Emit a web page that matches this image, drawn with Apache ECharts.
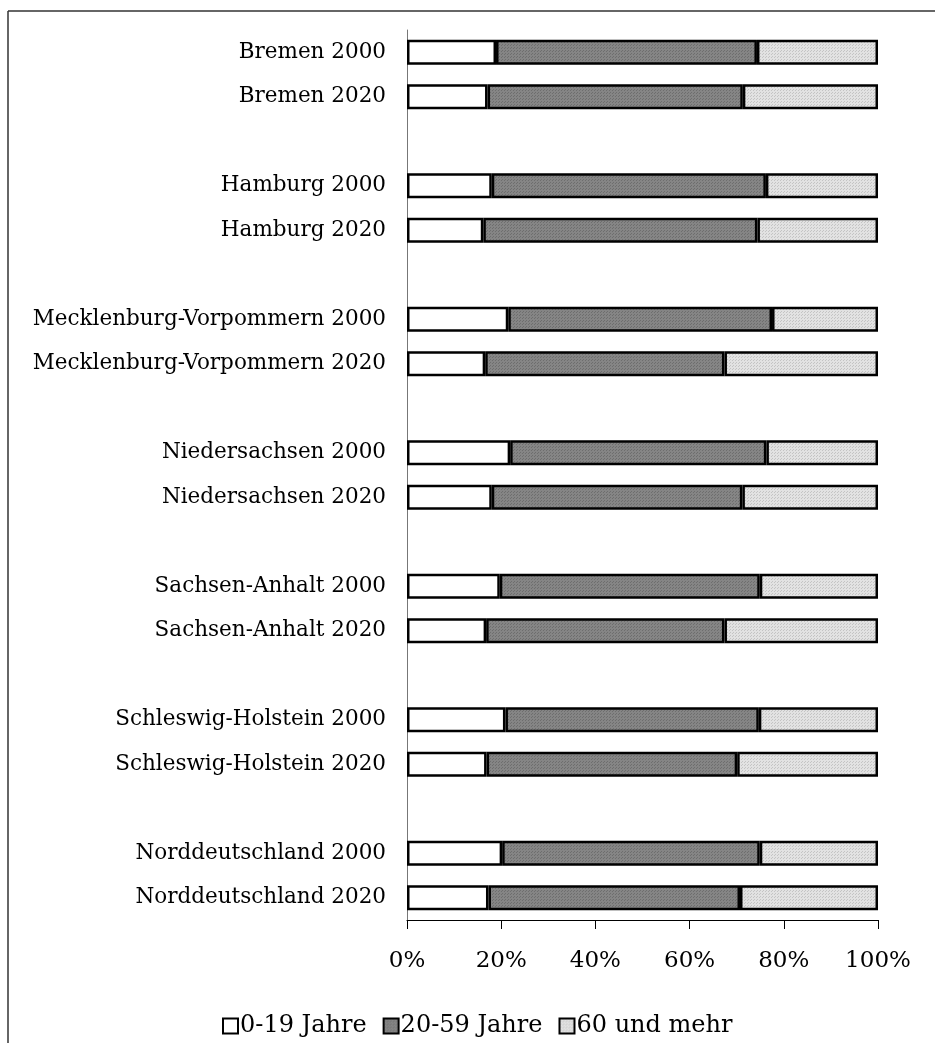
<!DOCTYPE html>
<html>
<head>
<meta charset="utf-8">
<script src="https://cdn.jsdelivr.net/npm/echarts@6/dist/echarts.min.js"></script>
<style>
  html, body { margin: 0; padding: 0; background: #fff; }
  #chart { width: 935px; height: 1043px; }
</style>
</head>
<body>
<div id="chart"></div>
<script>
// Regionen und Jahre (oben nach unten)
const regions = ['Bremen', 'Hamburg', 'Mecklenburg-Vorpommern', 'Niedersachsen',
  'Sachsen-Anhalt', 'Schleswig-Holstein', 'Norddeutschland']
const years = ['2000', '2020']

// Anteile in %, je Region: [2000, 2020]
const young = [18.9, 17.1, 18.0, 16.2, 21.5, 16.6, 21.9, 18.0, 19.7, 16.8, 20.9, 16.9, 20.2, 17.3]
const middle = [55.4, 54.2, 58.2, 58.2, 56.0, 50.8, 54.4, 53.2, 55.2, 50.6, 53.8, 53.2, 54.7, 53.4]
const old = [25.7, 28.7, 23.8, 25.6, 22.5, 32.6, 23.7, 28.8, 25.1, 32.6, 25.3, 29.9, 25.1, 29.3]

const seriesNames = ['0-19 Jahre', '20-59 Jahre', '60 und mehr']
const xTicks = [0, 20, 40, 60, 80, 100]

const font = 'DejaVu Serif'

// Kategorien mit Leerzeile zwischen den Regionen
let categories = []
let slots = [] // index in den Wertelisten, oder -1 fuer Leerzeile
regions.forEach((r, i) => {
  if (i > 0) {
    categories.push('')
    slots.push(-1)
  }
  years.forEach((y, j) => {
    categories.push(r + ' ' + y)
    slots.push(i * years.length + j)
  })
})
function toSlots(list) {
  return slots.map(k => (k < 0 ? null : list[k]))
}

// kleine Punktraster wie im Original
function dotPattern(base, dot) {
  const c = document.createElement('canvas')
  c.width = 3
  c.height = 3
  const ctx = c.getContext('2d')
  ctx.fillStyle = base
  ctx.fillRect(0, 0, 3, 3)
  ctx.fillStyle = dot
  ctx.fillRect(0, 0, 1, 1)
  ctx.fillRect(1, 2, 1, 1)
  return { image: c, repeat: 'repeat' }
}

const fills = ['#ffffff', dotPattern('#858585', '#6e6e6e'), dotPattern('#e2e2e2', '#c4c4c4')]
const lists = [young, middle, old]

const chart = echarts.init(document.getElementById('chart'))
chart.setOption({
  animation: false,
  graphic: [
    { type: 'line', shape: { x1: 8, y1: 11, x2: 935, y2: 11 }, style: { stroke: '#333', lineWidth: 1.5 } },
    { type: 'line', shape: { x1: 8, y1: 11, x2: 8, y2: 1043 }, style: { stroke: '#333', lineWidth: 1.5 } }
  ],
  grid: {
    left: 407,
    right: 57,
    top: 30,
    bottom: 123
  },
  legend: {
    left: 217,
    top: 1009,
    itemWidth: 15,
    itemHeight: 15,
    itemGap: 16,
    icon: 'rect',
    data: seriesNames,
    textStyle: {
      fontFamily: font,
      fontSize: 24,
      color: '#000',
      padding: [0, 0, 0, -3]
    }
  },
  xAxis: {
    type: 'value',
    min: 0,
    max: 100,
    interval: 20,
    splitLine: { show: false },
    axisLine: { show: true, lineStyle: { color: '#000', width: 1 } },
    axisTick: { show: true, length: 9, lineStyle: { color: '#000' } },
    axisLabel: {
      formatter: v => (xTicks.indexOf(v) >= 0 ? v + '%' : ''),
      fontFamily: font,
      fontSize: 23,
      color: '#000',
      margin: 30
    }
  },
  yAxis: {
    type: 'category',
    inverse: true,
    data: categories,
    axisLine: { show: true, lineStyle: { color: '#777', width: 1 } },
    axisTick: { show: false },
    axisLabel: {
      fontFamily: font,
      fontSize: 21.5,
      color: '#000',
      margin: 21
    }
  },
  series: seriesNames.map((name, i) => ({
    name: name,
    type: 'bar',
    stack: 'alle',
    barWidth: 25,
    data: toSlots(lists[i]),
    itemStyle: {
      color: fills[i],
      borderColor: '#000',
      borderWidth: 2.5
    }
  }))
})
</script>
</body>
</html>
